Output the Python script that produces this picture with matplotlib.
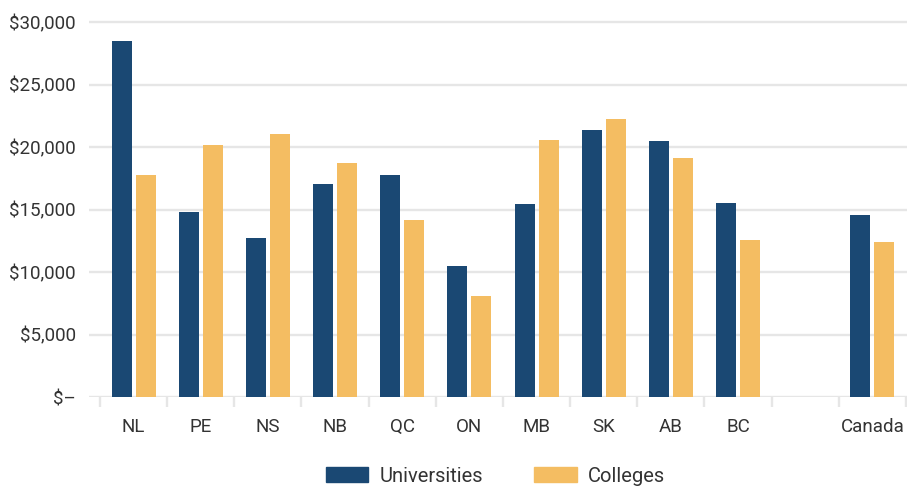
import numpy as np
import matplotlib.pyplot as plt
from matplotlib.patches import Patch
from matplotlib.ticker import FuncFormatter

plt.rcParams['font.family'] = ['Roboto', 'DejaVu Sans']

# data (average expenditure per student, $)
provinces = ["NL", "PE", "NS", "NB", "QC", "ON", "MB", "SK", "AB", "BC", "", "Canada"]
universities = [28500, 14830, 12750, 17070, 17790, 10500, 15470, 21390, 20500, 15550, np.nan, 14590]
colleges = [17790, 20190, 21070, 18750, 14190, 8100, 20590, 22270, 19150, 12590, np.nan, 12430]
yticks = [0, 5000, 10000, 15000, 20000, 25000, 30000]

navy = "#1a4873"
gold = "#f4bd62"
grid_c = "#e6e6e6"
text_c = "#333333"

fig = plt.figure(figsize=(9.07, 4.87), dpi=100)
ax = fig.add_axes([89 / 907, 90 / 487, 818 / 907, 381 / 487])

x = np.arange(len(provinces))
off = 12 / 67.17
w = 20 / 67.17
ax.bar(x - off, universities, w, color=navy, zorder=3)
ax.bar(x + off, colleges, w, color=gold, zorder=3)

ax.set_xlim(-0.5 - 11 / 67.17, 11.5 + 1 / 67.17)
ax.set_ylim(0, 30000 * 381 / 375)

ax.set_yticks(yticks)
ax.yaxis.set_major_formatter(FuncFormatter(lambda v, p: "$\u2013" if v == 0 else f"${v:,.0f}"))
ax.grid(axis="y", color=grid_c, lw=1.7, zorder=0)
ax.set_axisbelow(True)

ax.set_xticks(x)
ax.set_xticklabels(provinces)
ax.set_xticks(np.arange(-0.5, 12, 1), minor=True)
ax.tick_params(axis="x", which="major", length=0, pad=15, labelsize=13.5, labelcolor=text_c)
ax.tick_params(axis="x", which="minor", length=7.5, width=1.7, color=grid_c)
ax.tick_params(axis="y", length=0, pad=9.5, labelsize=13.5, labelcolor=text_c)
for s in ax.spines.values():
    s.set_visible(False)

handles = [Patch(color=navy, label="Universities"), Patch(color=gold, label="Colleges")]
fig.legend(handles=handles, loc="center", bbox_to_anchor=(495.5 / 907, 11 / 487), ncol=2,
           frameon=False, fontsize=14.5, handlelength=2.1, handleheight=0.8,
           handletextpad=0.55, columnspacing=2.55, labelcolor=text_c)

fig.savefig("out.png", dpi=100)
